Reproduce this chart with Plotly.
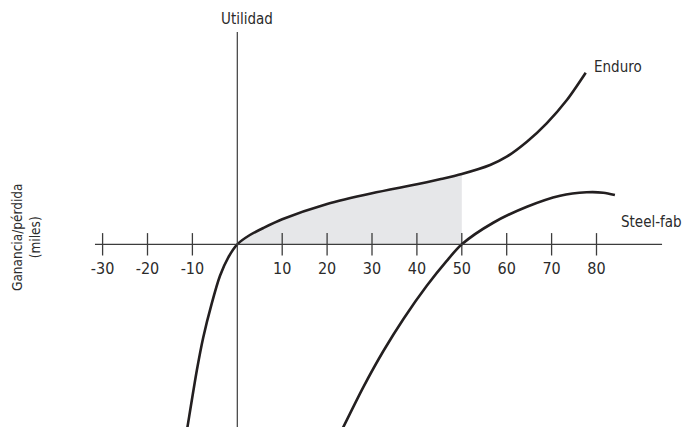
import plotly.graph_objects as go

# ---- data ----
tick_values = [-30, -20, -10, 10, 20, 30, 40, 50, 60, 70, 80]
tick_labels = ["-30", "-20", "-10", "10", "20", "30", "40", "50", "60", "70", "80"]

enduro_x = [-11.3, -11.1, -9.0, -7.6, -5.7, -3.85, -2.0, 0, 2.8, 5.8, 10, 20, 30, 40, 45.1, 50,
            56.3, 60, 64.5, 68.9, 73.4, 77.6]
enduro_y = [-41.9, -40.7, -28.0, -20.8, -13.2, -7.0, -2.9, 0, 2.07, 3.63, 5.57, 8.98, 11.36,
            13.36, 14.48, 15.66, 17.66, 19.51, 22.85, 26.95, 32.14, 38.22]

steel_x = [23.4, 28.1, 32.5, 37, 42.2, 46.6, 50, 57, 64.5, 71.9, 77.8, 81.5, 84.1]
steel_y = [-41.14, -31.74, -23.82, -16.62, -9.24, -3.74, 0, 4.8, 8.37, 10.82, 11.58, 11.49, 10.98]

shade_from, shade_to = 0, 50

# ---- figure ----
W, H = 682, 427
PX = 4.49          # pixels per data unit
X0PX, Y0PX = 237.3, 244.3
xr = [-X0PX / PX, (W - X0PX) / PX]
yr = [-(H - Y0PX) / PX, Y0PX / PX]

font = "Liberation Sans Narrow, DejaVu Sans Condensed, Roboto, sans-serif"
ink = "#231f20"
axis_col = "#3c3c3c"
txt = "#2b2b2b"

fig = go.Figure()

sx = [x for x in enduro_x if shade_from <= x <= shade_to]
sy = [y for x, y in zip(enduro_x, enduro_y) if shade_from <= x <= shade_to]
fig.add_trace(go.Scatter(x=sx, y=sy, mode="lines", line=dict(width=0, shape="spline", smoothing=0.8),
                         fill="tozeroy", fillcolor="#e6e7e9", hoverinfo="skip"))

# axes
fig.add_shape(type="line", x0=-31.7, x1=94.6, y0=0, y1=0,
              line=dict(color=axis_col, width=1.2))
fig.add_shape(type="line", x0=0, x1=0, y0=yr[0] - 1, y1=47.3,
              line=dict(color=axis_col, width=1.2))

# tick marks and labels
fig.add_trace(go.Scatter(x=tick_values, y=[0] * len(tick_values), mode="markers",
                         marker=dict(symbol="line-ns", size=16,
                                     line=dict(color=axis_col, width=1.3)),
                         hoverinfo="skip"))
fig.add_trace(go.Scatter(x=tick_values, y=[-5.7] * len(tick_values), mode="text",
                         text=tick_labels, textposition="middle center",
                         textfont=dict(family=font, size=16, color=txt),
                         hoverinfo="skip"))

# curves
fig.add_trace(go.Scatter(x=enduro_x, y=enduro_y, mode="lines",
                         line=dict(color=ink, width=2.6, shape="spline", smoothing=0.8)))
fig.add_trace(go.Scatter(x=steel_x, y=steel_y, mode="lines",
                         line=dict(color=ink, width=2.6, shape="spline", smoothing=0.8)))

ann = dict(showarrow=False, font=dict(family=font, size=15, color=txt))
fig.add_annotation(x=2.2, y=50.2, text="Utilidad", xanchor="center", yanchor="middle", **ann)
fig.add_annotation(x=79.0, y=39.5, text="Enduro", xanchor="left", yanchor="middle", **ann)
fig.add_annotation(x=85.0, y=5.0, text="Steel-fab", xanchor="left", yanchor="middle", **ann)
fig.add_annotation(x=-47.06, y=1.4, text="Ganancia/pérdida<br>(miles)", textangle=-90,
                   xanchor="center", yanchor="middle",
                   showarrow=False, font=dict(family=font, size=13.5, color=txt))

fig.update_layout(
    width=W, height=H, margin=dict(l=0, r=0, t=0, b=0),
    paper_bgcolor="white", plot_bgcolor="white", showlegend=False,
    xaxis=dict(range=xr, visible=False, fixedrange=True),
    yaxis=dict(range=yr, visible=False, fixedrange=True),
)

fig.write_html("out.html", config={"displayModeBar": False},
               post_script="document.body.style.margin='0';")
